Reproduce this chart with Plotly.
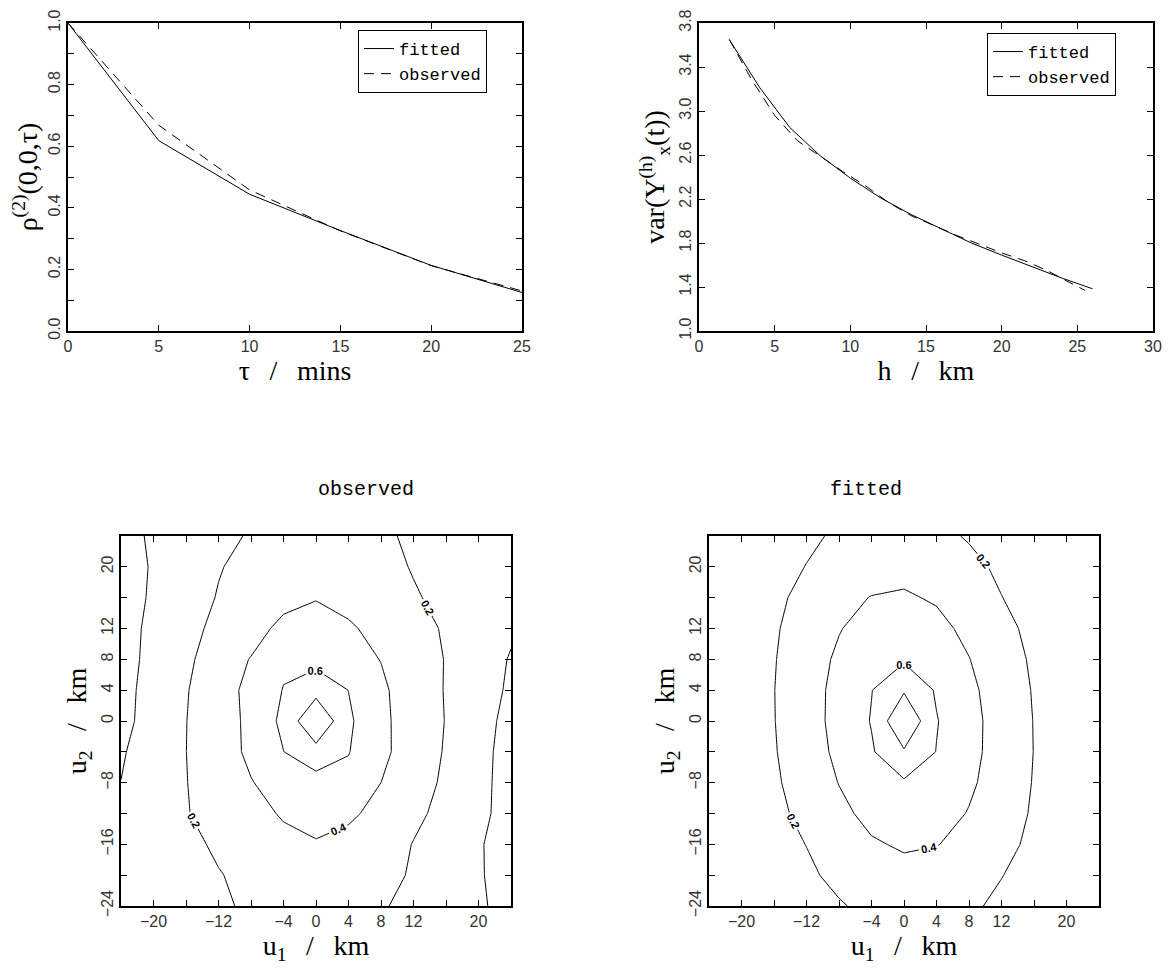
import plotly.graph_objects as go

# ---------------- data ----------------
tau_min = [0, 5, 10, 15, 20, 25]
rho_fitted = [1.0, 0.618, 0.444, 0.326, 0.213, 0.125]
rho_observed = [1.0, 0.668, 0.458, 0.325, 0.212, 0.13]

h_fit = [2, 4, 6, 8, 10, 12, 14, 16, 18, 20, 22, 24, 26]
var_fitted = [3.65, 3.215, 2.85, 2.594, 2.39, 2.21, 2.06, 1.93, 1.80, 1.69, 1.585, 1.48, 1.384]
h_obs = [2, 3.5, 5, 6.5, 8, 9.5, 11, 12.5, 14, 15.5, 17, 18.5, 20, 21.5, 23, 24.5, 25.5]
var_observed = [3.65, 3.28, 2.96, 2.73, 2.59, 2.45, 2.32, 2.17, 2.05, 1.96, 1.87, 1.79, 1.71, 1.64, 1.55, 1.44, 1.37]

grid_km = [-24, -20, -16, -12, -8, -4, 0, 4, 8, 12, 16, 20, 24]

# rows: u2 = -24 ... 24 ; columns: u1 = -24 ... 24
corr_observed = [
    [0.03, 0.06, 0.11, 0.17, 0.23, 0.25, 0.26, 0.24, 0.21, 0.17, 0.10, 0.02, -0.05],
    [0.04, 0.07, 0.12, 0.19, 0.25, 0.28, 0.30, 0.27, 0.23, 0.19, 0.11, 0.02, -0.09],
    [0.06, 0.10, 0.15, 0.23, 0.28, 0.32, 0.385, 0.33, 0.27, 0.195, 0.13, 0.02, -0.10],
    [0.05, 0.10, 0.19, 0.27, 0.30, 0.43, 0.47, 0.44, 0.33, 0.23, 0.16, 0.05, -0.08],
    [0.001, 0.07, 0.195, 0.29, 0.389, 0.50, 0.526, 0.551, 0.40, 0.28, 0.17, 0.05, -0.07],
    [-0.01, 0.05, 0.199, 0.28, 0.45, 0.598, 0.724, 0.607, 0.46, 0.27, 0.19, 0.05, -0.06],
    [-0.05, 0.07, 0.198, 0.27, 0.462, 0.64, 1.0, 0.63, 0.45, 0.29, 0.195, 0.07, -0.055],
    [-0.07, 0.08, 0.19, 0.30, 0.46, 0.607, 0.729, 0.598, 0.45, 0.25, 0.195, 0.06, -0.02],
    [-0.08, 0.06, 0.17, 0.28, 0.41, 0.567, 0.538, 0.50, 0.393, 0.26, 0.195, 0.07, -0.01],
    [-0.10, 0.06, 0.15, 0.24, 0.31, 0.46, 0.47, 0.43, 0.33, 0.25, 0.185, 0.08, 0.02],
    [-0.10, 0.03, 0.12, 0.21, 0.27, 0.33, 0.392, 0.33, 0.27, 0.215, 0.16, 0.08, 0.04],
    [-0.10, 0.02, 0.12, 0.19, 0.25, 0.29, 0.31, 0.28, 0.25, 0.19, 0.13, 0.07, 0.04],
    [-0.05, 0.02, 0.10, 0.17, 0.21, 0.24, 0.26, 0.24, 0.22, 0.18, 0.12, 0.07, 0.04],
]

corr_fitted = [
    [0.037, 0.060, 0.095, 0.139, 0.186, 0.240, 0.269, 0.263, 0.223, 0.171, 0.120, 0.082, 0.052],
    [0.044, 0.071, 0.114, 0.171, 0.242, 0.308, 0.343, 0.332, 0.281, 0.204, 0.144, 0.095, 0.058],
    [0.052, 0.086, 0.136, 0.203, 0.299, 0.380, 0.422, 0.405, 0.357, 0.247, 0.165, 0.106, 0.064],
    [0.058, 0.098, 0.158, 0.246, 0.355, 0.452, 0.505, 0.477, 0.390, 0.282, 0.181, 0.114, 0.068],
    [0.064, 0.108, 0.175, 0.281, 0.405, 0.522, 0.575, 0.544, 0.432, 0.307, 0.191, 0.119, 0.070],
    [0.068, 0.116, 0.188, 0.307, 0.442, 0.580, 0.779, 0.595, 0.456, 0.320, 0.197, 0.122, 0.071],
    [0.070, 0.120, 0.195, 0.320, 0.460, 0.610, 1.000, 0.610, 0.460, 0.320, 0.195, 0.120, 0.070],
    [0.071, 0.122, 0.197, 0.320, 0.456, 0.595, 0.779, 0.580, 0.442, 0.307, 0.188, 0.116, 0.068],
    [0.070, 0.119, 0.191, 0.307, 0.432, 0.544, 0.575, 0.522, 0.405, 0.281, 0.175, 0.108, 0.064],
    [0.068, 0.114, 0.181, 0.282, 0.390, 0.477, 0.505, 0.452, 0.355, 0.246, 0.158, 0.098, 0.058],
    [0.064, 0.106, 0.165, 0.247, 0.357, 0.405, 0.422, 0.380, 0.299, 0.203, 0.136, 0.086, 0.052],
    [0.058, 0.095, 0.144, 0.204, 0.281, 0.332, 0.343, 0.308, 0.242, 0.171, 0.114, 0.071, 0.044],
    [0.052, 0.082, 0.120, 0.171, 0.223, 0.263, 0.269, 0.240, 0.186, 0.139, 0.095, 0.060, 0.037],
]

rho_ticks = [0.0, 0.1, 0.2, 0.3, 0.4, 0.5, 0.6, 0.7, 0.8, 0.9, 1.0]
rho_ticklabels = ["0.0", "", "0.2", "", "0.4", "", "0.6", "", "0.8", "", "1.0"]
tau_ticks = [0, 5, 10, 15, 20, 25]
h_ticks = [0, 5, 10, 15, 20, 25, 30]
var_ticks = [1.0, 1.4, 1.8, 2.2, 2.6, 3.0, 3.4, 3.8]
var_ticklabels = ["1.0", "1.4", "1.8", "2.2", "2.6", "3.0", "3.4", "3.8"]
u1_ticks = [-20, -16, -12, -8, -4, 0, 4, 8, 12, 16, 20]
u1_ticklabels = ["\u221220", "", "\u221212", "", "\u22124", "0", "4", "8", "12", "", "20"]
u2_ticks = [-24, -20, -16, -12, -8, -4, 0, 4, 8, 12, 16, 20]
u2_ticklabels = ["\u221224", "", "\u221216", "", "\u22128", "", "0", "4", "8", "12", "", "20"]

# ---------------- figure ----------------
W, H = 1171, 968
OFF = 8  # page body margin of the html page
SANS = "Liberation Sans"
SERIF = "Liberation Serif"
MONO = "Liberation Mono"
SP = "\u2002\u2009"


def px(v):
    return (v - OFF) / W


def py(v):
    return (H - (v - OFF)) / H


def xdom(a, b):
    return [px(a), px(b)]


def ydom(top, bottom):
    return [py(bottom), py(top)]


def axis(domain, rng, tickvals, ticktext, title, standoff, angle=0, anchor=None):
    return dict(
        domain=domain, range=rng, anchor=anchor, automargin=False,
        tickmode="array", tickvals=tickvals, ticktext=ticktext,
        ticklabeloverflow="allow",
        showline=True, linecolor="black", linewidth=2.2, mirror="allticks",
        ticks="inside", ticklen=6, tickwidth=1, tickcolor="black",
        showgrid=False, zeroline=False, tickangle=angle,
        tickfont=dict(family=SANS, size=16, color="#333"),
        title=dict(text=title, font=dict(family=SERIF, size=28, color="black"), standoff=standoff),
    )


fig = go.Figure()

line_solid = dict(color="black", width=1)
line_dash = dict(color="black", width=1, dash="10px,7px")

fig.add_trace(go.Scatter(x=tau_min, y=rho_fitted, mode="lines", name="fitted",
                         line=line_solid, xaxis="x", yaxis="y", legend="legend"))
fig.add_trace(go.Scatter(x=tau_min, y=rho_observed, mode="lines", name="observed",
                         line=line_dash, xaxis="x", yaxis="y", legend="legend"))
fig.add_trace(go.Scatter(x=h_fit, y=var_fitted, mode="lines", name="fitted",
                         line=line_solid, xaxis="x2", yaxis="y2", legend="legend2"))
fig.add_trace(go.Scatter(x=h_obs, y=var_observed, mode="lines", name="observed",
                         line=line_dash, xaxis="x2", yaxis="y2", legend="legend2"))


def contour_pair(z, xa, ya):
    common = dict(x=grid_km, y=grid_km, z=z, xaxis=xa, yaxis=ya,
                  colorscale=[[0, "black"], [1, "black"]], showscale=False,
                  line=dict(width=1, smoothing=0), hoverinfo="skip", showlegend=False)
    labelled = go.Contour(
        contours=dict(start=0.2, end=0.6, size=0.2, coloring="lines", showlabels=True,
                      labelformat=".1f",
                      labelfont=dict(family=SANS, size=11, color="black", weight="bold")),
        **common)
    plain = go.Contour(
        contours=dict(start=0.0, end=0.8, size=0.8, coloring="lines", showlabels=False),
        **common)
    return [plain, labelled]


for tr in contour_pair(corr_observed, "x3", "y3"):
    fig.add_trace(tr)
for tr in contour_pair(corr_fitted, "x4", "y4"):
    fig.add_trace(tr)

legend_style = dict(xanchor="left", yanchor="top", bgcolor="white",
                    bordercolor="black", borderwidth=1, tracegroupgap=0,
                    font=dict(family=MONO, size=17, color="black"))

fig.update_layout(
    width=W, height=H, margin=dict(l=0, r=0, t=0, b=0, autoexpand=False),
    paper_bgcolor="white", plot_bgcolor="white",
    xaxis=axis(xdom(68, 522), [0, 25], tau_ticks, [str(t) for t in tau_ticks],
               "\u03c4" + SP + "/" + SP + "mins", 0, anchor="y"),
    yaxis=axis(ydom(23, 331), [0, 1], rho_ticks, rho_ticklabels,
               "\u03c1<sup>(2)</sup>(0,0,\u03c4)", 4, angle=-90, anchor="x"),
    xaxis2=axis(xdom(699, 1153), [0, 30], h_ticks, [str(t) for t in h_ticks],
                "h" + SP + "/" + SP + "km", 0, anchor="y2"),
    yaxis2=axis(ydom(23, 331), [1.0, 3.8], var_ticks, var_ticklabels,
                "var(Y<sup>(h)</sup><sub>x</sub>(t))", 4, angle=-90, anchor="x2"),
    xaxis3=axis(xdom(121, 511), [-24, 24], u1_ticks, u1_ticklabels,
                "u<sub>1</sub>" + SP + "/" + SP + "km", 2, anchor="y3"),
    yaxis3=axis(ydom(536, 906), [-24, 24], u2_ticks, u2_ticklabels,
                "u<sub>2</sub>" + SP + "/" + SP + "km", 4, angle=-90, anchor="x3"),
    xaxis4=axis(xdom(709, 1099), [-24, 24], u1_ticks, u1_ticklabels,
                "u<sub>1</sub>" + SP + "/" + SP + "km", 2, anchor="y4"),
    yaxis4=axis(ydom(536, 906), [-24, 24], u2_ticks, u2_ticklabels,
                "u<sub>2</sub>" + SP + "/" + SP + "km", 4, angle=-90, anchor="x4"),
    legend=dict(x=px(358), y=py(30), **legend_style),
    legend2=dict(x=px(987), y=py(33), **legend_style),
    annotations=[
        dict(text="observed", x=px(316), y=py(490), xref="paper", yref="paper",
             showarrow=False, font=dict(family=MONO, size=20, color="black")),
        dict(text="fitted", x=px(904), y=py(490), xref="paper", yref="paper",
             showarrow=False, font=dict(family=MONO, size=20, color="black")),
    ],
)

fig.write_html("out.html")
